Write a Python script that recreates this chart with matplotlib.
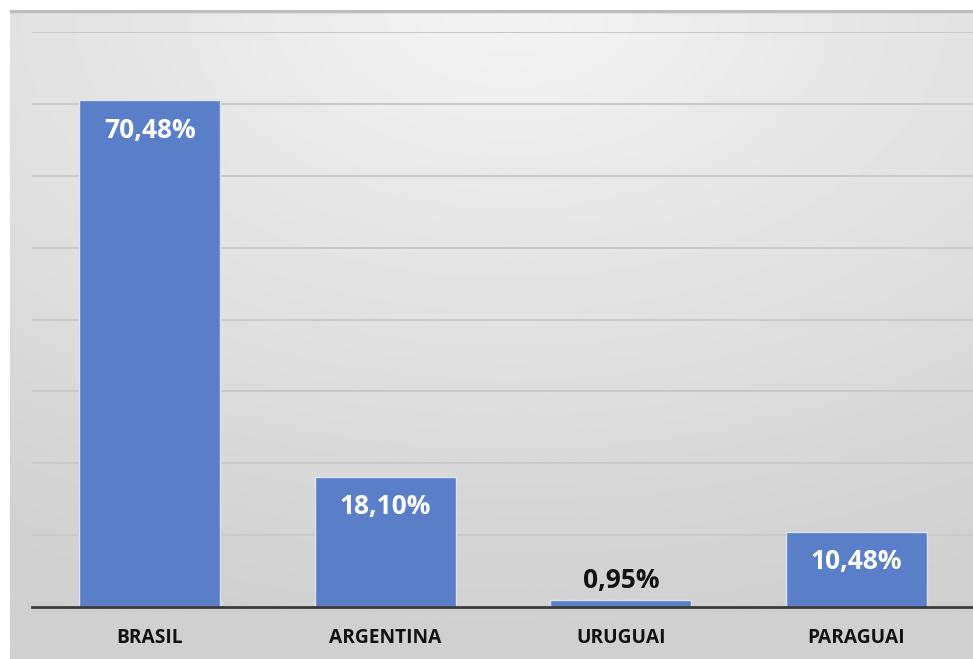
import numpy as np
import matplotlib.pyplot as plt

plt.rcParams["font.family"] = ["Open Sans", "DejaVu Sans"]

countries = ["BRASIL", "ARGENTINA", "URUGUAI", "PARAGUAI"]
shares = [70.48, 18.10, 0.95, 10.48]
share_labels = ["70,48%", "18,10%", "0,95%", "10,48%"]

W, H = 973, 659
fig = plt.figure(figsize=(W / 100, H / 100), dpi=100)

# gradient background panel (radial, light at top centre)
bg = fig.add_axes([10 / W, 0, 1 - 10 / W, 1 - 10 / H])
bg.set_axis_off()
yy, xx = np.mgrid[0:1:300j, 0:1:450j]
r = np.sqrt((xx - 0.52) ** 2 + (yy * 1.1) ** 2)
r = np.clip(r / 1.05, 0, 1)
shade = 0.955 - 0.14 * r
bg.imshow(shade, cmap="gray", vmin=0, vmax=1, extent=[0, 1, 1, 0],
          aspect="auto", origin="upper")
bg.set_xlim(0, 1)
bg.set_ylim(1, 0)
bg.axhline(0.0015, color="#bdbdbd", lw=2.5)

ax = fig.add_axes([32 / W, 52 / H, 942 / W, 575 / H])
ax.patch.set_alpha(0)
x = np.arange(len(countries))
bars = ax.bar(x, shares, width=0.6, color="#5a7fc8", edgecolor="#dce4f2",
              linewidth=1.0, zorder=3)

ax.set_xlim(-0.5, 3.5)
ax.set_ylim(0, 80)
ax.set_yticks(np.arange(10, 81, 10))
ax.grid(axis="y", color="#c9c9c9", lw=1.5, zorder=1)
ax.tick_params(left=False, labelleft=False, bottom=False, length=0)
for s in ["left", "right", "top"]:
    ax.spines[s].set_visible(False)
ax.spines["bottom"].set_color("#3a3a3a")
ax.spines["bottom"].set_linewidth(2)
ax.spines["bottom"].set_zorder(4)

ax.set_xticks(x)
ax.set_xticklabels(countries, fontsize=13.8, fontweight="bold", color="#111111")
ax.tick_params(axis="x", pad=15)

for xi, v, lab in zip(x, shares, share_labels):
    if v > 5:
        ax.annotate(lab, (xi, v), xytext=(0, -30), textcoords="offset pixels",
                    ha="center", va="center", fontsize=19, fontweight="bold",
                    color="white", zorder=5)
    else:
        ax.annotate(lab, (xi, v), xytext=(0, 20), textcoords="offset pixels",
                    ha="center", va="center", fontsize=19, fontweight="bold",
                    color="#111111", zorder=5)

fig.savefig("out.png", dpi=100)
